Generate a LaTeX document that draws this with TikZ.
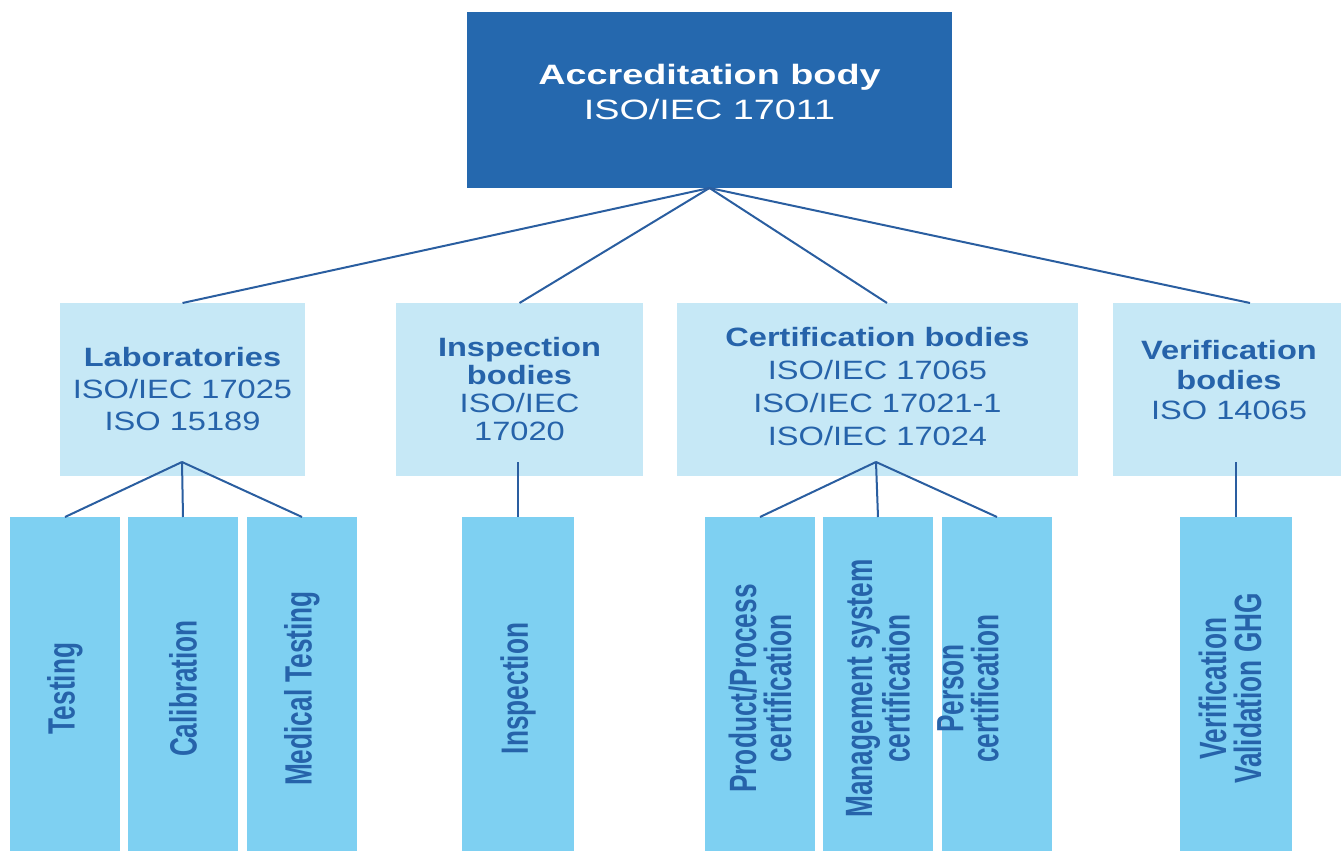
\documentclass[tikz,border=0pt]{standalone}
\usepackage{fontspec}
\setmainfont{Liberation Sans}
\newfontfamily\accfont[FakeStretch=1.35]{Liberation Sans}
\newfontfamily\grpfont[FakeStretch=1.23]{Liberation Sans}
\newfontfamily\leaffont[FakeStretch=0.69]{Liberation Sans}
\usetikzlibrary{positioning}

\definecolor{accblue}{RGB}{37,104,174}
\definecolor{grpblue}{RGB}{198,232,246}
\definecolor{leafblue}{RGB}{126,208,242}
\definecolor{txtblue}{RGB}{38,99,170}
\definecolor{lineblue}{RGB}{42,94,160}

\begin{document}
\begin{tikzpicture}[x=0.5pt, y=-0.5pt,
  accbox/.style={fill=accblue, text=white, minimum width=242.5pt, minimum height=88pt,
    align=center, inner sep=0pt, outer sep=0pt, text depth=8pt,
    font=\accfont\fontsize{14}{17.5}\selectfont},
  grpbox/.style={fill=grpblue, text=txtblue, minimum height=86.5pt, align=center,
    inner sep=0pt, outer sep=0pt},
  leafbox/.style={fill=leafblue, minimum width=55pt, minimum height=171.5pt,
    inner sep=0pt, outer sep=0pt},
  leaftext/.style={rotate=90, text=txtblue, align=center, inner sep=0pt,
    font=\leaffont\bfseries\fontsize{19}{17.5}\selectfont},
  link/.style={draw=lineblue, line width=1pt}]
\useasboundingbox (0,0) rectangle (1341,851);
\clip (0,0) rectangle (1341,851);

% Accreditation body
\node [accbox] (acc) at (709.5,100) {\bfseries Accreditation body\\ISO/IEC 17011};

% Bodies
\node [grpbox, minimum width=122.5pt, font=\grpfont\fontsize{13.25}{16}\selectfont]
  (lab) at (182.5,389.5) {\textbf{Laboratories}\\ISO/IEC 17025\\ISO 15189};
\node [grpbox, minimum width=123.5pt, font=\grpfont\fontsize{13.25}{14}\selectfont]
  (insp) at (519.5,389.5) {\textbf{Inspection}\\\textbf{bodies}\\ISO/IEC\\17020};
\node [grpbox, minimum width=200.5pt, text depth=3pt, font=\grpfont\fontsize{13.25}{16.5}\selectfont]
  (cert) at (877.5,389.5) {\textbf{Certification bodies}\\ISO/IEC 17065\\ISO/IEC 17021-1\\ISO/IEC 17024};
\node [grpbox, minimum width=116pt, text depth=10pt, font=\grpfont\fontsize{13.25}{15}\selectfont]
  (verif) at (1229,389.5) {\textbf{Verification}\\\textbf{bodies}\\ISO 14065};

% Accreditation connections
\draw [link] (acc.south) -- (lab.north);
\draw [link] (acc.south) -- (insp.north);
\draw [link] (acc.south) -- ([xshift=4.75pt]cert.north);
\draw [link] (acc.south) -- ([xshift=10.5pt]verif.north);

% Laboratory fields
\node [leafbox] (testing) at (65,688.5) {};
\node [leafbox, right=4pt of testing] (calibration) {};
\node [leafbox, right=4.5pt of calibration] (medical) {};
\node [leaftext] (testinglabel) at (testing) {Testing};
\node [leaftext] (calibrationlabel) at (calibration) {Calibration};
\node [leaftext] (medicallabel) at (medical) {Medical Testing};

% Inspection field
\node [leafbox, minimum width=56pt] (inspection) at (518,688.5) {};
\node [leaftext] (inspectionlabel) at (inspection) {Inspection};

% Certification fields
\node [leafbox] (product) at (760,688.5) {};
\node [leafbox, right=4pt of product] (management) {};
\node [leafbox, right=4.5pt of management] (person) {};
\node [leaftext] (productlabel) at (product) {Product/Process\\certification};
\node [leaftext] (managementlabel) at (management) {Management system\\certification};
\node [leaftext] (personlabel) at ([xshift=-14.5pt]person.center) {Person\\certification};

% Verification field
\node [leafbox, minimum width=56pt] (ghg) at (1236,688.5) {};
\node [leaftext] (ghglabel) at ([xshift=-3pt]ghg.center) {Verification\\Validation GHG};

% Field connections
\coordinate (labhub) at (182,462);
\coordinate (inspectionhub) at (518,462);
\coordinate (certhub) at (876,462);
\coordinate (verifhub) at (1236,462);
\draw [link] (labhub) -- (testing.north);
\draw [link] (labhub) -- (calibration.north);
\draw [link] (labhub) -- (medical.north);
\draw [link] (inspectionhub) -- (inspection.north);
\draw [link] (certhub) -- (product.north);
\draw [link] (certhub) -- (management.north);
\draw [link] (certhub) -- (person.north);
\draw [link] (verifhub) -- (ghg.north);
\end{tikzpicture}
\end{document}
